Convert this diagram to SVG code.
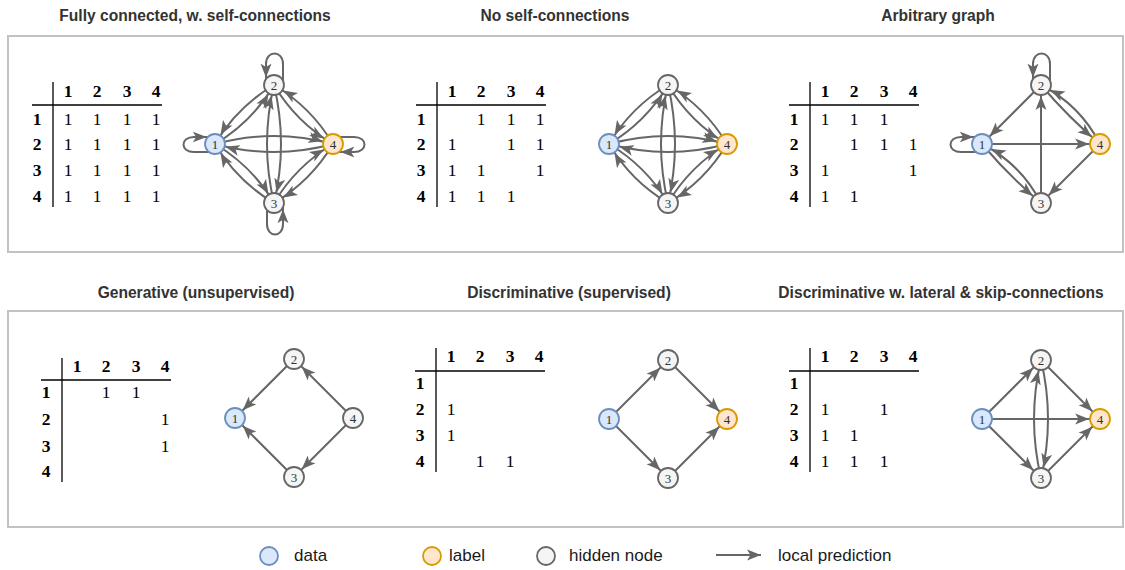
<svg xmlns="http://www.w3.org/2000/svg" width="1125" height="570" viewBox="0 0 1125 570">
  <style>
    .ttl { font-family: "Liberation Sans", Arial, sans-serif; font-weight: bold; font-size: 15.6px; fill: #333; text-anchor: middle; }
    .box { fill: none; stroke: #c2c2c2; stroke-width: 2; }
    .th { font-family: "Liberation Serif", "Times New Roman", serif; font-weight: bold; font-size: 17.5px; fill: #000; text-anchor: middle; }
    .td { font-family: "Liberation Serif", "Times New Roman", serif; font-size: 17.5px; fill: #000; text-anchor: middle; }
    .rule { stroke: #000; stroke-width: 1.3; }
    .edge { fill: none; stroke: #666; stroke-width: 2; marker-end: url(#ah); }
    .node circle { r: 10; stroke-width: 1.8; }
    .data { fill: #dae8fc; stroke: #6c8ebf; }
    .label { fill: #ffe6cc; stroke: #d79b00; }
    .hidden { fill: #f5f5f5; stroke: #666; }
    .nt { font-family: "Liberation Serif", "Times New Roman", serif; font-size: 13px; fill: #333; text-anchor: middle; }
    .leg { font-family: "Liberation Sans", Arial, sans-serif; font-size: 17px; fill: #1a1a1a; }
  </style>
  <defs>
    <!-- arrowhead whose tip stops on the rim of a node (r ≈ 10.9) -->
    <marker id="ah" markerUnits="userSpaceOnUse" markerWidth="15" markerHeight="12" refX="24.9" refY="6" orient="auto">
      <path d="M0,0.5 L14,6 L0,11.5 L3.5,6 Z" fill="#666"/>
    </marker>
    <!-- arrowhead with its tip on the line end -->
    <marker id="ah0" markerUnits="userSpaceOnUse" markerWidth="15" markerHeight="12" refX="14" refY="6" orient="auto">
      <path d="M0,0.5 L14,6 L0,11.5 L3.5,6 Z" fill="#666"/>
    </marker>
  </defs>

  <rect width="1125" height="570" fill="#fff"/>

  <!-- panel frames -->
  <rect class="box" x="8" y="36" width="1115" height="216"/>
  <rect class="box" x="8" y="311" width="1115" height="216"/>

  <!-- titles -->
  <text class="ttl" x="195" y="21">Fully connected, w. self-connections</text>
  <text class="ttl" x="555" y="21">No self-connections</text>
  <text class="ttl" x="938" y="21">Arbitrary graph</text>
  <text class="ttl" x="196" y="298">Generative (unsupervised)</text>
  <text class="ttl" x="569" y="298">Discriminative (supervised)</text>
  <text class="ttl" x="941" y="298">Discriminative w. lateral &amp; skip-connections</text>

  <!-- ===== tables ===== -->
  <g id="table-full">
    <line class="rule" x1="53" y1="82" x2="53" y2="207"/>
    <line class="rule" x1="32" y1="105" x2="162" y2="105"/>
    <text class="th" y="97"><tspan x="68">1</tspan><tspan x="97">2</tspan><tspan x="127">3</tspan><tspan x="156">4</tspan></text>
    <text class="th" x="37" y="124.5">1</text>
    <text class="th" x="37" y="150">2</text>
    <text class="th" x="37" y="175.7">3</text>
    <text class="th" x="37" y="201.5">4</text>
    <text class="td" y="124.5"><tspan x="68">1</tspan><tspan x="97">1</tspan><tspan x="127">1</tspan><tspan x="156">1</tspan></text>
    <text class="td" y="150"><tspan x="68">1</tspan><tspan x="97">1</tspan><tspan x="127">1</tspan><tspan x="156">1</tspan></text>
    <text class="td" y="175.7"><tspan x="68">1</tspan><tspan x="97">1</tspan><tspan x="127">1</tspan><tspan x="156">1</tspan></text>
    <text class="td" y="201.5"><tspan x="68">1</tspan><tspan x="97">1</tspan><tspan x="127">1</tspan><tspan x="156">1</tspan></text>
  </g>

  <g id="table-noself">
    <line class="rule" x1="437" y1="82" x2="437" y2="207"/>
    <line class="rule" x1="416" y1="105" x2="546" y2="105"/>
    <text class="th" y="97"><tspan x="452">1</tspan><tspan x="481">2</tspan><tspan x="511">3</tspan><tspan x="540">4</tspan></text>
    <text class="th" x="421" y="124.5">1</text>
    <text class="th" x="421" y="150">2</text>
    <text class="th" x="421" y="175.7">3</text>
    <text class="th" x="421" y="201.5">4</text>
    <text class="td" y="124.5"><tspan x="481">1</tspan><tspan x="511">1</tspan><tspan x="540">1</tspan></text>
    <text class="td" y="150"><tspan x="452">1</tspan><tspan x="511">1</tspan><tspan x="540">1</tspan></text>
    <text class="td" y="175.7"><tspan x="452">1</tspan><tspan x="481">1</tspan><tspan x="540">1</tspan></text>
    <text class="td" y="201.5"><tspan x="452">1</tspan><tspan x="481">1</tspan><tspan x="511">1</tspan></text>
  </g>

  <g id="table-arbitrary">
    <line class="rule" x1="810" y1="82" x2="810" y2="207"/>
    <line class="rule" x1="789" y1="105" x2="919" y2="105"/>
    <text class="th" y="97"><tspan x="825">1</tspan><tspan x="854">2</tspan><tspan x="884">3</tspan><tspan x="913">4</tspan></text>
    <text class="th" x="794" y="124.5">1</text>
    <text class="th" x="794" y="150">2</text>
    <text class="th" x="794" y="175.7">3</text>
    <text class="th" x="794" y="201.5">4</text>
    <text class="td" y="124.5"><tspan x="825">1</tspan><tspan x="854">1</tspan><tspan x="884">1</tspan></text>
    <text class="td" y="150"><tspan x="854">1</tspan><tspan x="884">1</tspan><tspan x="913">1</tspan></text>
    <text class="td" y="175.7"><tspan x="825">1</tspan><tspan x="913">1</tspan></text>
    <text class="td" y="201.5"><tspan x="825">1</tspan><tspan x="854">1</tspan></text>
  </g>

  <g id="table-generative">
    <line class="rule" x1="62" y1="358" x2="62" y2="482"/>
    <line class="rule" x1="41" y1="380" x2="171" y2="380"/>
    <text class="th" y="371.7"><tspan x="77">1</tspan><tspan x="106">2</tspan><tspan x="136">3</tspan><tspan x="165">4</tspan></text>
    <text class="th" x="46" y="398.3">1</text>
    <text class="th" x="46" y="425">2</text>
    <text class="th" x="46" y="451.7">3</text>
    <text class="th" x="46" y="476.7">4</text>
    <text class="td" y="398.3"><tspan x="106">1</tspan><tspan x="136">1</tspan></text>
    <text class="td" y="425"><tspan x="165">1</tspan></text>
    <text class="td" y="451.7"><tspan x="165">1</tspan></text>
  </g>

  <g id="table-discriminative">
    <line class="rule" x1="436" y1="348" x2="436" y2="472"/>
    <line class="rule" x1="415" y1="371" x2="545" y2="371"/>
    <text class="th" y="361.7"><tspan x="451">1</tspan><tspan x="480">2</tspan><tspan x="510">3</tspan><tspan x="539">4</tspan></text>
    <text class="th" x="420" y="389.3">1</text>
    <text class="th" x="420" y="415">2</text>
    <text class="th" x="420" y="441">3</text>
    <text class="th" x="420" y="466.7">4</text>
    <text class="td" y="415"><tspan x="451">1</tspan></text>
    <text class="td" y="441"><tspan x="451">1</tspan></text>
    <text class="td" y="466.7"><tspan x="480">1</tspan><tspan x="510">1</tspan></text>
  </g>

  <g id="table-lateral">
    <line class="rule" x1="810" y1="348" x2="810" y2="472"/>
    <line class="rule" x1="789" y1="371" x2="919" y2="371"/>
    <text class="th" y="361.7"><tspan x="825">1</tspan><tspan x="854">2</tspan><tspan x="884">3</tspan><tspan x="913">4</tspan></text>
    <text class="th" x="794" y="389.3">1</text>
    <text class="th" x="794" y="415">2</text>
    <text class="th" x="794" y="441">3</text>
    <text class="th" x="794" y="466.7">4</text>
    <text class="td" y="415"><tspan x="825">1</tspan><tspan x="884">1</tspan></text>
    <text class="td" y="441"><tspan x="825">1</tspan><tspan x="854">1</tspan></text>
    <text class="td" y="466.7"><tspan x="825">1</tspan><tspan x="854">1</tspan><tspan x="884">1</tspan></text>
  </g>

  <!-- ===== graphs (coordinates relative to each diamond's centre) ===== -->

  <!-- fully connected with self-loops -->
  <g id="graph-full" transform="translate(274,144)">
    <g id="graph-full-edges">
      <path class="edge" d="M-59,0 Q-22,-22 0,-59"/>
      <path class="edge" d="M0,-59 Q-37,-37 -59,0"/>
      <path class="edge" d="M-59,0 Q-22,22 0,59"/>
      <path class="edge" d="M0,59 Q-37,37 -59,0"/>
      <path class="edge" d="M0,-59 Q22,-22 59,0"/>
      <path class="edge" d="M59,0 Q37,-37 0,-59"/>
      <path class="edge" d="M0,59 Q22,22 59,0"/>
      <path class="edge" d="M59,0 Q37,37 0,59"/>
      <path class="edge" d="M-59,0 Q0,-16 59,0"/>
      <path class="edge" d="M59,0 Q0,16 -59,0"/>
      <path class="edge" d="M0,-59 Q14,0 0,59"/>
      <path class="edge" d="M0,59 Q-14,0 0,-59"/>
      <path class="edge" d="M-59,8 L-80,8 C-94,8 -94,-7 -80,-7 L-56.45,-7"/>
      <path class="edge" d="M9,-59 L9,-80 C9,-94 -8,-94 -8,-80 L-8,-55.5"/>
      <path class="edge" d="M-7,59 L-7,80 C-7,94 9,94 9,80 L9,54.25"/>
      <path class="edge" d="M59,-7 L80,-7 C94,-7 94,8 80,8 L55.5,8"/>
    </g>
    <g id="graph-full-n1" class="node" transform="translate(-59,0)"><circle class="data"/><text class="nt" y="4.5">1</text></g>
    <g id="graph-full-n2" class="node" transform="translate(0,-59)"><circle class="hidden"/><text class="nt" y="4.5">2</text></g>
    <g id="graph-full-n3" class="node" transform="translate(0,59)"><circle class="hidden"/><text class="nt" y="4.5">3</text></g>
    <g id="graph-full-n4" class="node" transform="translate(59,0)"><circle class="label"/><text class="nt" y="4.5">4</text></g>
  </g>

  <!-- fully connected, no self-loops -->
  <g id="graph-noself" transform="translate(668,144)">
    <g id="graph-noself-edges">
      <path class="edge" d="M-59,0 Q-22,-22 0,-59"/>
      <path class="edge" d="M0,-59 Q-37,-37 -59,0"/>
      <path class="edge" d="M-59,0 Q-22,22 0,59"/>
      <path class="edge" d="M0,59 Q-37,37 -59,0"/>
      <path class="edge" d="M0,-59 Q22,-22 59,0"/>
      <path class="edge" d="M59,0 Q37,-37 0,-59"/>
      <path class="edge" d="M0,59 Q22,22 59,0"/>
      <path class="edge" d="M59,0 Q37,37 0,59"/>
      <path class="edge" d="M-59,0 Q0,-16 59,0"/>
      <path class="edge" d="M59,0 Q0,16 -59,0"/>
      <path class="edge" d="M0,-59 Q14,0 0,59"/>
      <path class="edge" d="M0,59 Q-14,0 0,-59"/>
    </g>
    <g id="graph-noself-n1" class="node" transform="translate(-59,0)"><circle class="data"/><text class="nt" y="4.5">1</text></g>
    <g id="graph-noself-n2" class="node" transform="translate(0,-59)"><circle class="hidden"/><text class="nt" y="4.5">2</text></g>
    <g id="graph-noself-n3" class="node" transform="translate(0,59)"><circle class="hidden"/><text class="nt" y="4.5">3</text></g>
    <g id="graph-noself-n4" class="node" transform="translate(59,0)"><circle class="label"/><text class="nt" y="4.5">4</text></g>
  </g>

  <!-- arbitrary graph -->
  <g id="graph-arbitrary" transform="translate(1041,144)">
    <g id="graph-arbitrary-edges">
      <path class="edge" d="M-59,8 L-80,8 C-94,8 -94,-7 -80,-7 L-56.45,-7"/>
      <path class="edge" d="M9,-59 L9,-80 C9,-94 -8,-94 -8,-80 L-8,-55.5"/>
      <path class="edge" d="M0,-59 L-59,0"/>
      <path class="edge" d="M-59,0 Q-32,32 0,59"/>
      <path class="edge" d="M0,59 Q-20,20 -59,0"/>
      <path class="edge" d="M0,59 L0,-59"/>
      <path class="edge" d="M0,-59 Q27,-27 59,0"/>
      <path class="edge" d="M59,0 Q39,-39 0,-59"/>
      <path class="edge" d="M59,0 L0,59"/>
      <path class="edge" d="M-59,0 L59,0"/>
    </g>
    <g id="graph-arbitrary-n1" class="node" transform="translate(-59,0)"><circle class="data"/><text class="nt" y="4.5">1</text></g>
    <g id="graph-arbitrary-n2" class="node" transform="translate(0,-59)"><circle class="hidden"/><text class="nt" y="4.5">2</text></g>
    <g id="graph-arbitrary-n3" class="node" transform="translate(0,59)"><circle class="hidden"/><text class="nt" y="4.5">3</text></g>
    <g id="graph-arbitrary-n4" class="node" transform="translate(59,0)"><circle class="label"/><text class="nt" y="4.5">4</text></g>
  </g>

  <!-- generative -->
  <g id="graph-generative" transform="translate(294,418)">
    <g id="graph-generative-edges">
      <path class="edge" d="M0,-59 L-59,0"/>
      <path class="edge" d="M0,59 L-59,0"/>
      <path class="edge" d="M59,0 L0,-59"/>
      <path class="edge" d="M59,0 L0,59"/>
    </g>
    <g id="graph-generative-n1" class="node" transform="translate(-59,0)"><circle class="data"/><text class="nt" y="4.5">1</text></g>
    <g id="graph-generative-n2" class="node" transform="translate(0,-59)"><circle class="hidden"/><text class="nt" y="4.5">2</text></g>
    <g id="graph-generative-n3" class="node" transform="translate(0,59)"><circle class="hidden"/><text class="nt" y="4.5">3</text></g>
    <g id="graph-generative-n4" class="node" transform="translate(59,0)"><circle class="hidden"/><text class="nt" y="4.5">4</text></g>
  </g>

  <!-- discriminative -->
  <g id="graph-discriminative" transform="translate(668,419)">
    <g id="graph-discriminative-edges">
      <path class="edge" d="M-59,0 L0,-59"/>
      <path class="edge" d="M-59,0 L0,59"/>
      <path class="edge" d="M0,-59 L59,0"/>
      <path class="edge" d="M0,59 L59,0"/>
    </g>
    <g id="graph-discriminative-n1" class="node" transform="translate(-59,0)"><circle class="data"/><text class="nt" y="4.5">1</text></g>
    <g id="graph-discriminative-n2" class="node" transform="translate(0,-59)"><circle class="hidden"/><text class="nt" y="4.5">2</text></g>
    <g id="graph-discriminative-n3" class="node" transform="translate(0,59)"><circle class="hidden"/><text class="nt" y="4.5">3</text></g>
    <g id="graph-discriminative-n4" class="node" transform="translate(59,0)"><circle class="label"/><text class="nt" y="4.5">4</text></g>
  </g>

  <!-- discriminative with lateral and skip connections -->
  <g id="graph-lateral" transform="translate(1041,419)">
    <g id="graph-lateral-edges">
      <path class="edge" d="M-59,0 L0,-59"/>
      <path class="edge" d="M-59,0 L0,59"/>
      <path class="edge" d="M-59,0 L59,0"/>
      <path class="edge" d="M0,-59 L59,0"/>
      <path class="edge" d="M0,59 L59,0"/>
      <path class="edge" d="M0,-59 Q14,0 0,59"/>
      <path class="edge" d="M0,59 Q-14,0 0,-59"/>
    </g>
    <g id="graph-lateral-n1" class="node" transform="translate(-59,0)"><circle class="data"/><text class="nt" y="4.5">1</text></g>
    <g id="graph-lateral-n2" class="node" transform="translate(0,-59)"><circle class="hidden"/><text class="nt" y="4.5">2</text></g>
    <g id="graph-lateral-n3" class="node" transform="translate(0,59)"><circle class="hidden"/><text class="nt" y="4.5">3</text></g>
    <g id="graph-lateral-n4" class="node" transform="translate(59,0)"><circle class="label"/><text class="nt" y="4.5">4</text></g>
  </g>

  <!-- legend -->
  <g id="legend">
    <g id="legend-data"><circle class="data" cx="269" cy="556" r="9" stroke-width="1.8"/><text class="leg" x="294" y="561">data</text></g>
    <g id="legend-label"><circle class="label" cx="432" cy="556" r="9" stroke-width="1.8"/><text class="leg" x="449" y="561">label</text></g>
    <g id="legend-hidden"><circle class="hidden" cx="546" cy="556" r="9" stroke-width="1.8"/><text class="leg" x="569" y="561">hidden node</text></g>
    <g id="legend-arrow"><line x1="716" y1="555" x2="761" y2="555" stroke="#666" stroke-width="2" marker-end="url(#ah0)"/><text class="leg" x="778" y="561">local prediction</text></g>
  </g>
</svg>
